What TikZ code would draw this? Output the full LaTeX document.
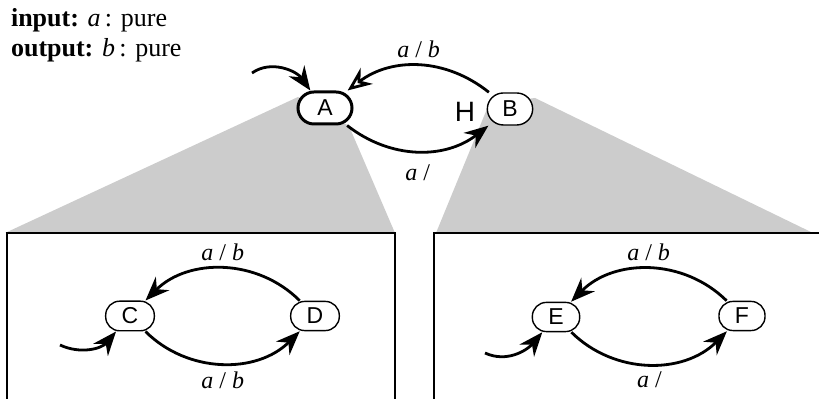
\documentclass[tikz,border=0pt]{standalone}
\usepackage{fontspec}
\setmainfont{Liberation Serif}
\setsansfont{Liberation Sans}
\usetikzlibrary{arrows.meta,positioning}
\definecolor{zoomgrey}{HTML}{CCCCCC}
\tikzset{x=0.5pt,y=0.5pt,
  every node/.style={font=\fontsize{12}{14}\selectfont},
  statebox/.style={draw,fill=white,line width=.7pt,rounded corners=7pt,
    minimum height=14.5pt,inner xsep=8pt,font=\sffamily\fontsize{11.5}{11.5}\selectfont},
  topstate/.style={statebox,minimum height=16pt,rounded corners=8pt,inner xsep=7.5pt},
  initstate/.style={topstate,line width=1.5pt,minimum width=27pt},
  trans/.style={-{Stealth[length=12pt,width=9.5pt,inset=4pt]},line width=1.4pt},
  opentrans/.style={-{Stealth[open,length=12pt,width=10pt,inset=4pt]},line width=1.4pt},
  zoomarea/.style={fill=zoomgrey},
  frame/.style={draw,line width=1pt}}
\newcommand{\lab}[2]{\textit{#1}~/~\textit{#2}}
\begin{document}
\begin{tikzpicture}
\useasboundingbox (0,0) rectangle (819,399);
% zoom wedges from the upper states to the two frames
\fill[zoomarea] (298,302) -- (349,273) -- (395,166) -- (5,166) -- cycle;
\fill[zoomarea] (489,295) -- (535,301) -- (813,166) -- (436,166) -- cycle;
\draw[frame] (7,0) |- (395,166) -- (395,0);
\draw[frame] (434,0) |- (822,166);
\node[anchor=north west,align=left,font=\fontsize{13}{15}\selectfont] (decl) at (4,398)
  {\textbf{input:} \textit{a}\,: pure\\\textbf{output:} \textit{b}\,: pure};
% upper level
\node[initstate] (A) at (325,291) {A};
\node[topstate] (B) at (510,290) {B};
\node[font=\sffamily\fontsize{14}{14}\selectfont] (hist) at (465,287) {H};
\coordinate (initA) at (252,326);
\draw[trans] (initA) to[out=35,in=125] (A.130);
\draw[opentrans] (B) to[bend right=38] node[above] {\lab{a}{b}} (A);
\draw[trans] (A) to[bend right=38] node[below=3pt] {\textit{a}~/~} (B);
% left frame
\node[statebox] (C) at (130,83) {C};
\node[statebox] (D) at (315,83) {D};
\coordinate (initC) at (60,54);
\draw[trans] (initC) to[out=-25,in=-130] (C.228);
\draw[trans] (D) to[bend right=45] node[above] {\lab{a}{b}} (C);
\draw[trans] (C) to[bend right=45] node[below] {\lab{a}{b}} (D);
% right frame
\node[statebox] (E) at (556,82) {E};
\node[statebox] (F) at (742,83) {F};
\coordinate (initE) at (485,46);
\draw[trans] (initE) to[out=-25,in=-130] (E.228);
\draw[trans] (F) to[bend right=45] node[above] {\lab{a}{b}} (E);
\draw[trans] (E) to[bend right=45] node[below] {\textit{a}~/~} (F);
\end{tikzpicture}
\end{document}
